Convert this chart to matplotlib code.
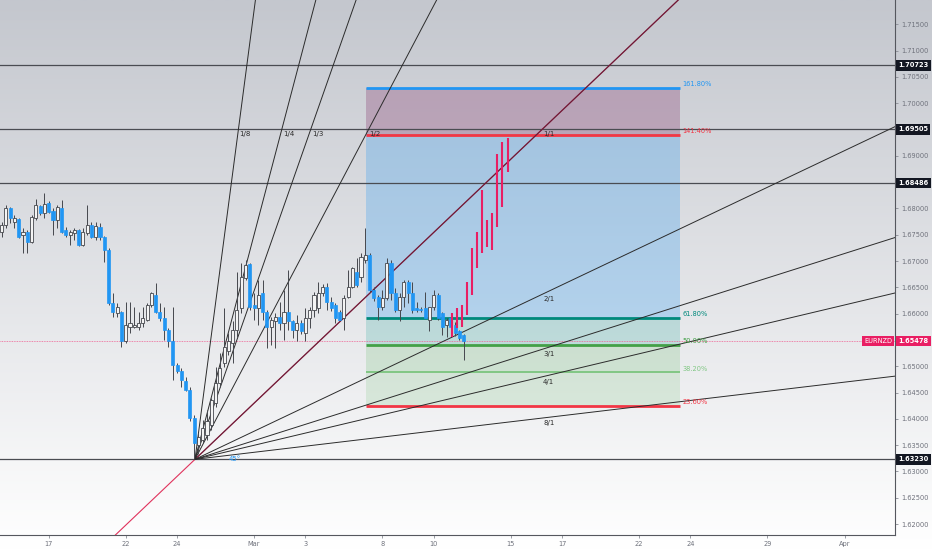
import numpy as np
import matplotlib
matplotlib.use('Agg')
import matplotlib.pyplot as plt
from matplotlib.patches import Rectangle

# ---------------- data ----------------
# EURNZD 4H candles. x unit = candle index (6 candles per trading day), 0 = first candle of Feb 17
first_index = -11
opens = [1.6756, 1.6769, 1.6800, 1.6775, 1.6779, 1.6749, 1.6756, 1.6737, 1.6781, 1.6805,
         1.6791, 1.6810, 1.6796, 1.6778, 1.6800, 1.6759, 1.6749, 1.6753, 1.6759, 1.6730,
         1.6753, 1.6769, 1.6746, 1.6765, 1.6746, 1.6721, 1.6620, 1.6601, 1.6603, 1.6547,
         1.6574, 1.6575, 1.6575, 1.6582, 1.6588, 1.6616, 1.6635, 1.6604, 1.6591, 1.6569,
         1.6547, 1.6502, 1.6490, 1.6471, 1.6455, 1.6401, 1.6350, 1.6360, 1.6369, 1.6388,
         1.6430, 1.6468, 1.6506, 1.6528, 1.6544, 1.6569, 1.6611, 1.6667, 1.6694, 1.6616,
         1.6610, 1.6639, 1.6604, 1.6575, 1.6585, 1.6594, 1.6582, 1.6604, 1.6585, 1.6569,
         1.6582, 1.6563, 1.6591, 1.6607, 1.6610, 1.6639, 1.6651, 1.6623, 1.6616, 1.6604,
         1.6591, 1.6632, 1.6651, 1.6680, 1.6670, 1.6702, 1.6711, 1.6645, 1.6632, 1.6613,
         1.6629, 1.6696, 1.6639, 1.6607, 1.6632, 1.6661, 1.6639, 1.6610, 1.6609, 1.6610,
         1.6588, 1.6613, 1.6635, 1.6601, 1.6578, 1.6591, 1.6578, 1.6566, 1.6559]
highs = [1.6775, 1.6807, 1.6803, 1.6788, 1.6781, 1.6762, 1.6759, 1.6788, 1.6817, 1.6807,
         1.6829, 1.6814, 1.6800, 1.6807, 1.6816, 1.6765, 1.6759, 1.6762, 1.6760, 1.6762,
         1.6807, 1.6775, 1.6775, 1.6772, 1.6748, 1.6724, 1.6639, 1.6620, 1.6605, 1.6623,
         1.6623, 1.6613, 1.6604, 1.6613, 1.6620, 1.6642, 1.6658, 1.6620, 1.6613, 1.6572,
         1.6613, 1.6506, 1.6496, 1.6480, 1.6461, 1.6407, 1.6373, 1.6398, 1.6417, 1.6439,
         1.6499, 1.6525, 1.6610, 1.6563, 1.6585, 1.6680, 1.6696, 1.6702, 1.6696, 1.6639,
         1.6664, 1.6664, 1.6607, 1.6594, 1.6601, 1.6623, 1.6645, 1.6683, 1.6588, 1.6597,
         1.6588, 1.6610, 1.6613, 1.6642, 1.6661, 1.6656, 1.6658, 1.6632, 1.6620, 1.6607,
         1.6635, 1.6683, 1.6689, 1.6705, 1.6715, 1.6763, 1.6715, 1.6651, 1.6635, 1.6645,
         1.6705, 1.6702, 1.6648, 1.6639, 1.6664, 1.6664, 1.6661, 1.6623, 1.6613, 1.6642,
         1.6613, 1.6645, 1.6639, 1.6604, 1.6591, 1.6597, 1.6584, 1.6569, 1.6561]
lows = [1.6746, 1.6762, 1.6772, 1.6762, 1.6743, 1.6715, 1.6715, 1.6735, 1.6778, 1.6788,
        1.6781, 1.6791, 1.6749, 1.6762, 1.6753, 1.6746, 1.6730, 1.6740, 1.6728, 1.6728,
        1.6749, 1.6743, 1.6740, 1.6740, 1.6699, 1.6616, 1.6594, 1.6594, 1.6537, 1.6544,
        1.6563, 1.6572, 1.6569, 1.6575, 1.6585, 1.6613, 1.6601, 1.6585, 1.6550, 1.6537,
        1.6474, 1.6487, 1.6461, 1.6452, 1.6395, 1.6323, 1.6334, 1.6354, 1.6360, 1.6379,
        1.6423, 1.6461, 1.6499, 1.6521, 1.6506, 1.6556, 1.6601, 1.6664, 1.6607, 1.6588,
        1.6578, 1.6588, 1.6534, 1.6540, 1.6534, 1.6569, 1.6550, 1.6569, 1.6553, 1.6547,
        1.6561, 1.6547, 1.6572, 1.6594, 1.6601, 1.6634, 1.6607, 1.6605, 1.6582, 1.6588,
        1.6569, 1.6629, 1.6648, 1.6651, 1.6661, 1.6696, 1.6642, 1.6624, 1.6588, 1.6607,
        1.6626, 1.6626, 1.6604, 1.6585, 1.6613, 1.6620, 1.6601, 1.6604, 1.6604, 1.6591,
        1.6566, 1.6607, 1.6588, 1.6559, 1.6556, 1.6569, 1.6557, 1.6550, 1.6512]
closes = [1.6769, 1.6800, 1.6781, 1.6781, 1.6746, 1.6756, 1.6737, 1.6784, 1.6807, 1.6791,
          1.6808, 1.6794, 1.6778, 1.6803, 1.6756, 1.6749, 1.6756, 1.6759, 1.6730, 1.6756,
          1.6769, 1.6746, 1.6767, 1.6746, 1.6721, 1.6620, 1.6604, 1.6613, 1.6547, 1.6578,
          1.6582, 1.6578, 1.6582, 1.6591, 1.6616, 1.6639, 1.6604, 1.6591, 1.6569, 1.6547,
          1.6502, 1.6490, 1.6474, 1.6455, 1.6401, 1.6354, 1.6366, 1.6382, 1.6395, 1.6436,
          1.6468, 1.6496, 1.6537, 1.6547, 1.6569, 1.6607, 1.6670, 1.6692, 1.6613, 1.6610,
          1.6635, 1.6604, 1.6575, 1.6588, 1.6594, 1.6582, 1.6604, 1.6585, 1.6569, 1.6582,
          1.6566, 1.6591, 1.6607, 1.6635, 1.6639, 1.6651, 1.6623, 1.6610, 1.6591, 1.6588,
          1.6629, 1.6651, 1.6686, 1.6654, 1.6708, 1.6711, 1.6645, 1.6629, 1.6613, 1.6629,
          1.6696, 1.6639, 1.6607, 1.6632, 1.6661, 1.6639, 1.6607, 1.6607, 1.6607, 1.6591,
          1.6613, 1.6635, 1.6591, 1.6575, 1.6588, 1.6575, 1.6563, 1.6553, 1.65478]

# projected "bars pattern" (pink)
proj_x = [94.2, 95.4, 96.6, 97.7, 98.9, 100.0, 101.3, 102.4, 103.6, 104.8, 106.0, 107.3]
proj_high = [1.6601, 1.6610, 1.6616, 1.6661, 1.6724, 1.6756, 1.6835, 1.6778, 1.6791, 1.6903, 1.6927, 1.6934]
proj_low = [1.6556, 1.6572, 1.6575, 1.6597, 1.6635, 1.6686, 1.6715, 1.6727, 1.6721, 1.6765, 1.6803, 1.6870]

# horizontal levels
h_levels = [1.70723, 1.69505, 1.68486, 1.63230]
last_price = 1.65478
symbol = "EURNZD"

# fib retracement (0 = 1.6322 low, 1 = 1.6759 high), box span in candle index
fib_zero, fib_one = 1.6322, 1.6759
fib_start, fib_end = 74.2, 147.6
fib_ratios = [0.236, 0.382, 0.5, 0.618, 1.414, 1.618]
fib_labels = ["23.60%", "38.20%", "50.00%", "61.80%", "141.40%", "161.80%"]
fib_colors = ["#f23645", "#81c784", "#43a047", "#00897b", "#f23645", "#2196f3"]

# gann fan
fan_origin = (34.2, 1.6323)
fan_corner = (115.3, 1.6950)
fan_ratios = [8, 4, 3, 2, 1, 1/2, 1/3, 1/4, 1/8]
fan_labels = ["1/8", "1/4", "1/3", "1/2", "1/1", "2/1", "3/1", "4/1", "8/1"]

# price axis / date axis
y_ticks = [1.620 + 0.005 * i for i in range(20)]
x_tick_pos = [0, 18, 30, 48, 60, 78, 90, 108, 120, 138, 150, 168, 186]
x_tick_lab = ["17", "22", "24", "Mar", "3", "8", "10", "15", "17", "22", "24", "29", "Apr"]

# ---------------- figure ----------------
W, H = 932, 550
fig = plt.figure(figsize=(W / 100, H / 100), dpi=100)

bg = fig.add_axes([0, 0, 1, 1], zorder=-10)
grad = np.linspace(0, 1, 256)[:, None]
top = np.array([196, 199, 206]) / 255
bot = np.array([255, 255, 255]) / 255
img = top[None, None, :] * (1 - grad[:, :, None]) + bot[None, None, :] * grad[:, :, None]
bg.imshow(img, aspect='auto', extent=[0, 1, 0, 1])
bg.axis('off')

ax = fig.add_axes([0, 15 / H, 895 / W, 535 / H])
ax.set_facecolor('none')
ax.set_xlim(-11.38, 197.8)
ax.set_ylim(1.61791, 1.71962)

# fib fills
lv = [fib_zero + r * (fib_one - fib_zero) for r in fib_ratios]
fx = [fib_start, fib_end]
ax.fill_between(fx, lv[0], lv[1], color='#81c784', alpha=0.22, lw=0, zorder=1)
ax.fill_between(fx, lv[1], lv[2], color='#66bb6a', alpha=0.22, lw=0, zorder=1)
ax.fill_between(fx, lv[2], lv[3], color='#26a69a', alpha=0.22, lw=0, zorder=1)
ax.fill_between(fx, lv[3], lv[4], color='#2196f3', alpha=0.26, lw=0, zorder=1)
ax.fill_between(fx, lv[4], lv[5], color='#9e6a90', alpha=0.45, lw=0, zorder=1)

# horizontal levels
for p in h_levels:
    ax.axhline(p, color='#4a4c52', lw=0.9, zorder=2)
ax.axhline(last_price, color='#f06292', lw=0.6, ls=(0, (1, 1)), zorder=2)

# fib lines + labels
for r, lab, c, p in zip(fib_ratios, fib_labels, fib_colors, lv):
    lw = 1.4 if r == 0.382 else 2.0
    ax.plot(fx, [p, p], color=c, lw=lw, zorder=3, solid_capstyle='butt')
    ax.annotate(lab, (fib_end, p), xytext=(1.5, 2.5), textcoords='offset points',
                fontsize=4.8, color=c, ha='left', va='center', zorder=6)

# candles
n = len(opens)
xs = np.arange(first_index, first_index + n)
bw = 0.72
for x, o, h, l, c in zip(xs, opens, highs, lows, closes):
    ax.plot([x, x], [l, h], color='#45474d', lw=0.7, zorder=4, solid_capstyle='butt')
    if c >= o:
        ax.add_patch(Rectangle((x - bw / 2, o), bw, max(c - o, 0.00004), facecolor='#f4f4f4',
                               edgecolor='#45474d', lw=0.6, zorder=5))
    else:
        ax.add_patch(Rectangle((x - bw / 2, c), bw, o - c, facecolor='#2196f3',
                               edgecolor='#2196f3', lw=0.5, zorder=5))

# projected pink bars
for x, hh, ll in zip(proj_x, proj_high, proj_low):
    ax.plot([x, x], [ll, hh], color='#e91e63', lw=1.5, zorder=6, solid_capstyle='butt')

# gann fan
ox, oy = fan_origin
cx, cy = fan_corner
base = (cy - oy) / (cx - ox)
far = 400
# red trend line along 1/1
ax.plot([ox - 60, ox + far], [oy - 60 * base, oy + far * base], color='#e0325c', lw=0.8, zorder=3)
for r, lab in zip(fan_ratios, fan_labels):
    s = base * r
    if r == 1:
        ax.plot([ox, ox + far], [oy, oy + far * s], color='#3a0f25', lw=0.9, alpha=0.7, zorder=3)
    else:
        ax.plot([ox, ox + far], [oy, oy + far * s], color='#2b2b2b', lw=0.7, zorder=3)
    if r >= 1:
        lx, ly = ox + (cy - oy) / s, cy
    else:
        lx, ly = cx, oy + s * (cx - ox)
    ax.annotate(lab, (lx, ly), xytext=(0.8, -1.2), textcoords='offset points',
                fontsize=5, color='#2b2b2b', ha='left', va='top', zorder=7)
ax.text(43.5, 1.6323, "45°", fontsize=5, color='#2196f3', ha='center', va='center', zorder=7)

# axes styling
for s in ['top', 'left']:
    ax.spines[s].set_visible(False)
ax.spines['right'].set_color('#55575e')
ax.spines['bottom'].set_color('#55575e')
ax.spines['right'].set_linewidth(0.8)
ax.spines['bottom'].set_linewidth(0.8)
ax.yaxis.tick_right()
ax.set_yticks(y_ticks)
boxed = h_levels + [last_price]
ax.set_yticklabels(["" if any(abs(v - b) < 0.0012 for b in boxed) else f"{v:.5f}" for v in y_ticks])
ax.tick_params(axis='y', length=2.5, width=0.6, color='#8a8d96', labelsize=4.8,
               labelcolor='#6f727c', pad=2)
ax.set_xticks(x_tick_pos)
ax.set_xticklabels(x_tick_lab)
ax.tick_params(axis='x', length=2, width=0.6, color='#8a8d96', labelsize=4.8,
               labelcolor='#6f727c', pad=2)

# price labels on axis
for p in h_levels:
    ax.annotate(f"{p:.5f}", (1, p), xycoords=('axes fraction', 'data'), xytext=(2.2, 0),
                textcoords='offset points', fontsize=4.8, color='white', fontweight='bold',
                ha='left', va='center', annotation_clip=False,
                bbox=dict(boxstyle='square,pad=0.35', fc='#131722', ec='none'))
ax.annotate(f"{last_price:.5f}", (1, last_price), xycoords=('axes fraction', 'data'), xytext=(2.2, 0),
            textcoords='offset points', fontsize=4.8, color='white', fontweight='bold',
            ha='left', va='center', annotation_clip=False,
            bbox=dict(boxstyle='square,pad=0.35', fc='#e91e63', ec='none'))
ax.annotate(symbol, (1, last_price), xycoords=('axes fraction', 'data'), xytext=(-2.2, 0),
            textcoords='offset points', fontsize=4.8, color='white',
            ha='right', va='center', annotation_clip=False,
            bbox=dict(boxstyle='square,pad=0.35', fc='#e91e63', ec='none'))

fig.savefig('out.png', dpi=100)
